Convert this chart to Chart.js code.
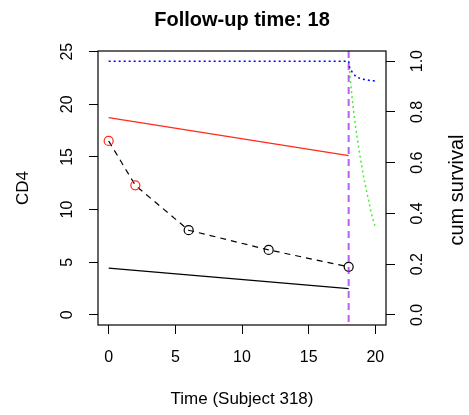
<!DOCTYPE html>
<html>
<head>
<meta charset="utf-8">
<script src="https://cdn.jsdelivr.net/npm/chart.js@4/dist/chart.umd.min.js"></script>
<style>
html,body{margin:0;padding:0;background:#fff;}
canvas{display:block;}
</style>
</head>
<body>
<canvas id="c" width="469" height="415"></canvas>
<script>
// ---- data ----
const followUpTime = 18;
const obsTimes = [0, 2, 6, 12, 18];
const obsCD4 = [16.52, 12.3, 8.04, 6.17, 4.56];
const obsFlagged = [true, true, false, false, false];
const fitTimes = [0, 18];
const fitUpper = [18.74, 15.13];
const fitLower = [4.43, 2.5];
const survUpperTimes = [0, 18, 18.05, 18.25, 18.5, 18.85, 19.2, 19.6, 20];
const survUpper = [1.0, 1.0, 0.98, 0.958, 0.942, 0.932, 0.928, 0.924, 0.922];
const survLowerTimes = [18, 18.25, 18.5, 18.75, 19, 19.25, 19.5, 19.75, 20];
const survLower = [1.0, 0.86, 0.75, 0.66, 0.58, 0.51, 0.45, 0.39, 0.345];
const xTicks = [0, 5, 10, 15, 20];
const yTicks = [0, 5, 10, 15, 20, 25];
const y2Ticks = [0.0, 0.2, 0.4, 0.6, 0.8, 1.0];
const xRange = [-0.8, 20.8];
const yRange = [-0.964, 25.064];
const y2Range = [-0.04, 1.04];
const titleText = 'Follow-up time: 18';
const xTitle = 'Time (Subject 318)';
const yTitle = 'CD4';
const y2Title = 'cum survival';

// ---- styles ----
const FONT = "'Liberation Sans', Arial, Helvetica, sans-serif";
const zip = (xs, ys) => xs.map((x, i) => ({x: x, y: ys[i]}));

const boxPlugin = {
  id: 'boxPlugin',
  afterDatasetsDraw(chart) {
    const {ctx, chartArea: a, scales} = chart;
    ctx.save();
    // vertical follow-up line
    const px = scales.x.getPixelForValue(followUpTime);
    ctx.strokeStyle = 'rgba(160,32,240,0.72)';
    ctx.lineWidth = 2;
    ctx.setLineDash([7, 5]);
    ctx.beginPath();
    ctx.moveTo(px, a.top);
    ctx.lineTo(px, a.bottom);
    ctx.stroke();
    ctx.setLineDash([]);
    // frame
    ctx.strokeStyle = '#000';
    ctx.lineWidth = 1.2;
    ctx.strokeRect(a.left, a.top, a.right - a.left, a.bottom - a.top);
    ctx.restore();
  },
  afterDraw(chart) {
    const {ctx, chartArea: a} = chart;
    ctx.save();
    ctx.font = '20px ' + FONT;
    ctx.fillStyle = '#000';
    ctx.textAlign = 'center';
    ctx.textBaseline = 'middle';
    ctx.translate(457, (a.top + a.bottom) / 2 + 2);
    ctx.rotate(-Math.PI / 2);
    ctx.fillText(y2Title, 0, 0);
    ctx.restore();
  }
};

const tickGrid = {drawOnChartArea: false, drawTicks: true, tickLength: 9, color: '#000', lineWidth: 1};

new Chart(document.getElementById('c'), {
  type: 'scatter',
  data: {
    datasets: [
      {
        data: zip(fitTimes, fitUpper), showLine: true, yAxisID: 'y',
        borderColor: '#ff2a1a', borderWidth: 1.3, pointRadius: 0, tension: 0
      },
      {
        data: zip(fitTimes, fitLower), showLine: true, yAxisID: 'y',
        borderColor: '#000', borderWidth: 1.3, pointRadius: 0, tension: 0
      },
      {
        data: zip(obsTimes, obsCD4), showLine: true, yAxisID: 'y',
        borderColor: '#000', borderWidth: 1.2, borderDash: [6, 5], tension: 0,
        pointRadius: 4.5, pointBorderWidth: 1.2,
        pointBackgroundColor: 'rgba(0,0,0,0)',
        pointBorderColor: obsFlagged.map(f => f ? '#ff2a1a' : '#000')
      },
      {
        data: zip(survUpperTimes, survUpper), showLine: true, yAxisID: 'y2',
        borderColor: '#0000ff', borderWidth: 1.5, borderDash: [2, 3], pointRadius: 0,
        cubicInterpolationMode: 'monotone'
      },
      {
        data: zip(survLowerTimes, survLower), showLine: true, yAxisID: 'y2',
        borderColor: '#44f030', borderWidth: 1.5, borderDash: [2, 3], pointRadius: 0,
        cubicInterpolationMode: 'monotone'
      }
    ]
  },
  options: {
    responsive: false,
    animation: false,
    devicePixelRatio: 1,
    layout: {padding: 0},
    plugins: {
      legend: {display: false},
      tooltip: {enabled: false},
      title: {
        display: true, text: titleText, fullSize: false, color: '#000',
        font: {family: FONT, size: 20, weight: 'bold', lineHeight: 1.2},
        padding: {top: 8, bottom: 19}
      }
    },
    scales: {
      x: {
        type: 'linear', position: 'bottom', min: xRange[0], max: xRange[1],
        afterBuildTicks: s => { s.ticks = xTicks.map(v => ({value: v})); },
        afterFit: s => { s.height = 90; },
        grid: tickGrid,
        border: {display: false},
        ticks: {color: '#000', font: {family: FONT, size: 16}, padding: 14, maxRotation: 0, minRotation: 0},
        title: {display: true, text: xTitle, color: '#000', font: {family: FONT, size: 17, lineHeight: 1.2}, padding: {top: 0, bottom: 5}}
      },
      y: {
        type: 'linear', position: 'left', min: yRange[0], max: yRange[1],
        afterBuildTicks: s => { s.ticks = yTicks.map(v => ({value: v})); },
        afterFit: s => { s.width = 98; },
        grid: tickGrid,
        border: {display: false},
        ticks: {color: '#000', font: {family: FONT, size: 16}, padding: 13, minRotation: 90, maxRotation: 90, crossAlign: 'center'},
        title: {display: true, text: yTitle, color: '#000', font: {family: FONT, size: 17, lineHeight: 1.2}, padding: {top: 13, bottom: 0}}
      },
      y2: {
        type: 'linear', position: 'right', min: y2Range[0], max: y2Range[1],
        afterBuildTicks: s => { s.ticks = y2Ticks.map(v => ({value: v})); },
        afterFit: s => { s.width = 83; },
        grid: tickGrid,
        border: {display: false},
        ticks: {color: '#000', font: {family: FONT, size: 16}, padding: 11, minRotation: 90, maxRotation: 90, crossAlign: 'center',
          callback: v => Number(v).toFixed(1)}
      }
    }
  },
  plugins: [boxPlugin]
});
</script>
</body>
</html>
